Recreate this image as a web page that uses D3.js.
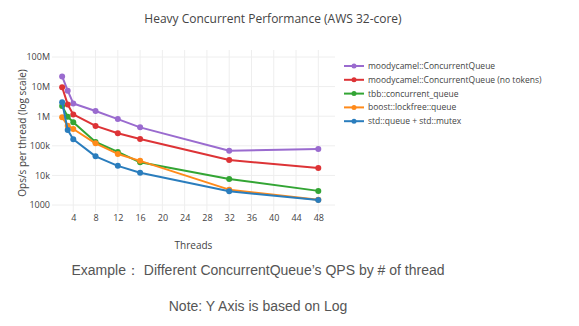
<!DOCTYPE html>
<html><head><meta charset="utf-8">
<script src="https://cdn.jsdelivr.net/npm/d3@7"></script>
<style>body{margin:0;background:#fff}svg{display:block}</style>
</head><body>
<svg id="c" width="579" height="326"></svg>
<script>
const threads = [2, 3, 4, 8, 12, 16, 32, 48];
const seriesNames = [
  "moodycamel::ConcurrentQueue",
  "moodycamel::ConcurrentQueue (no tokens)",
  "tbb::concurrent_queue",
  "boost::lockfree::queue",
  "std::queue + std::mutex"
];
const moodycamel = [22e6, 7.3e6, 2.7e6, 1.5e6, 800e3, 420e3, 68e3, 78e3];
const moodycamelNoTokens = [9.5e6, 2.5e6, 1.15e6, 470e3, 265e3, 170e3, 33e3, 17.8e3];
const tbb = [2.2e6, 960e3, 630e3, 134e3, 62e3, 27.6e3, 7.6e3, 3e3];
const boost = [920e3, 480e3, 370e3, 121e3, 53e3, 31e3, 3.3e3, 1.5e3];
const stdMutex = [2.95e6, 340e3, 166e3, 44e3, 21e3, 12.3e3, 2.9e3, 1.47e3];
const seriesValues = [moodycamel, moodycamelNoTokens, tbb, boost, stdMutex];
const colors = ["#9a6bcf", "#dd3336", "#33a534", "#ff8a1a", "#2a7dbd"];
const xTicks = [4, 8, 12, 16, 20, 24, 28, 32, 36, 40, 44, 48];
const yTicks = [1e3, 1e4, 1e5, 1e6, 1e7, 1e8];
const yTickLabels = ["1000", "10k", "100k", "1M", "10M", "100M"];

const svg = d3.select("#c");
const font = "'Open Sans', sans-serif";
const L = 52, R = 335, T = 50, B = 212;
const x = d3.scaleLinear().domain([0.18, 51]).range([L, R]);
const y = d3.scaleLog().domain([1e3, 1e8]).range([205, 57]);

// grid
svg.append("g").selectAll("line").data(xTicks).join("line")
  .attr("x1", d => x(d)).attr("x2", d => x(d)).attr("y1", T).attr("y2", B)
  .attr("stroke", "#eee").attr("stroke-width", 1);
svg.append("g").selectAll("line").data(yTicks).join("line")
  .attr("x1", L).attr("x2", R).attr("y1", d => y(d)).attr("y2", d => y(d))
  .attr("stroke", "#eee").attr("stroke-width", 1);

// axes
const xAxis = d3.axisBottom(x).tickValues(xTicks).tickSize(0).tickPadding(0);
const gx = svg.append("g").attr("transform", `translate(0,${B})`).call(xAxis);
gx.select(".domain").remove();
gx.selectAll("text").attr("dy", "0.71em").attr("y", 3).attr("fill", "#444")
  .style("font-family", font).style("font-size", "9px");

const yAxis = d3.axisLeft(y).tickValues(yTicks).tickSize(0).tickPadding(0)
  .tickFormat((d, i) => yTickLabels[i]);
const gy = svg.append("g").attr("transform", `translate(${L - 2},0)`).call(yAxis);
gy.select(".domain").remove();
gy.selectAll("text").attr("fill", "#444")
  .style("font-family", font).style("font-size", "9px");

// lines
const line = d3.line().x((d, i) => x(threads[i])).y(d => y(d));
seriesValues.forEach((vals, si) => {
  const g = svg.append("g");
  g.append("path").datum(vals).attr("d", line).attr("fill", "none")
    .attr("stroke", colors[si]).attr("stroke-width", 2).attr("stroke-linejoin", "round");
  g.selectAll("circle").data(vals).join("circle")
    .attr("cx", (d, i) => x(threads[i])).attr("cy", d => y(d)).attr("r", 3)
    .attr("fill", colors[si]);
});

// titles
svg.append("text").attr("x", 273).attr("y", 23).attr("text-anchor", "middle")
  .attr("fill", "#444").style("font-family", font).style("font-size", "12px")
  .text("Heavy Concurrent Performance (AWS 32-core)");
svg.append("text").attr("x", (L + R) / 2).attr("y", 249).attr("text-anchor", "middle")
  .attr("fill", "#444").style("font-family", font).style("font-size", "10px")
  .text("Threads");
svg.append("text").attr("transform", "translate(26,133) rotate(-90)").attr("text-anchor", "middle")
  .attr("fill", "#444").style("font-family", font).style("font-size", "10px")
  .text("Ops/s per thread (log scale)");

// legend
const lg = svg.append("g");
seriesNames.forEach((name, i) => {
  const ly = 66 + i * 13.8;
  lg.append("line").attr("x1", 344).attr("x2", 364).attr("y1", ly).attr("y2", ly)
    .attr("stroke", colors[i]).attr("stroke-width", 2);
  lg.append("circle").attr("cx", 354).attr("cy", ly).attr("r", 2.5).attr("fill", colors[i]);
  lg.append("text").attr("x", 368).attr("y", ly).attr("dy", "0.35em")
    .attr("fill", "#444").style("font-family", font).style("font-size", "8.5px").text(name);
});

// captions
const cap = "'Liberation Sans', Arial, sans-serif";
svg.append("text").attr("x", 258).attr("y", 275).attr("text-anchor", "middle")
  .attr("fill", "#555").style("font-family", cap).style("font-size", "14px")
  .text("Example： Different ConcurrentQueue’s QPS by # of thread");
svg.append("text").attr("x", 258).attr("y", 311).attr("text-anchor", "middle")
  .attr("fill", "#555").style("font-family", cap).style("font-size", "14px")
  .text("Note: Y Axis is based on Log");
</script>
</body></html>
